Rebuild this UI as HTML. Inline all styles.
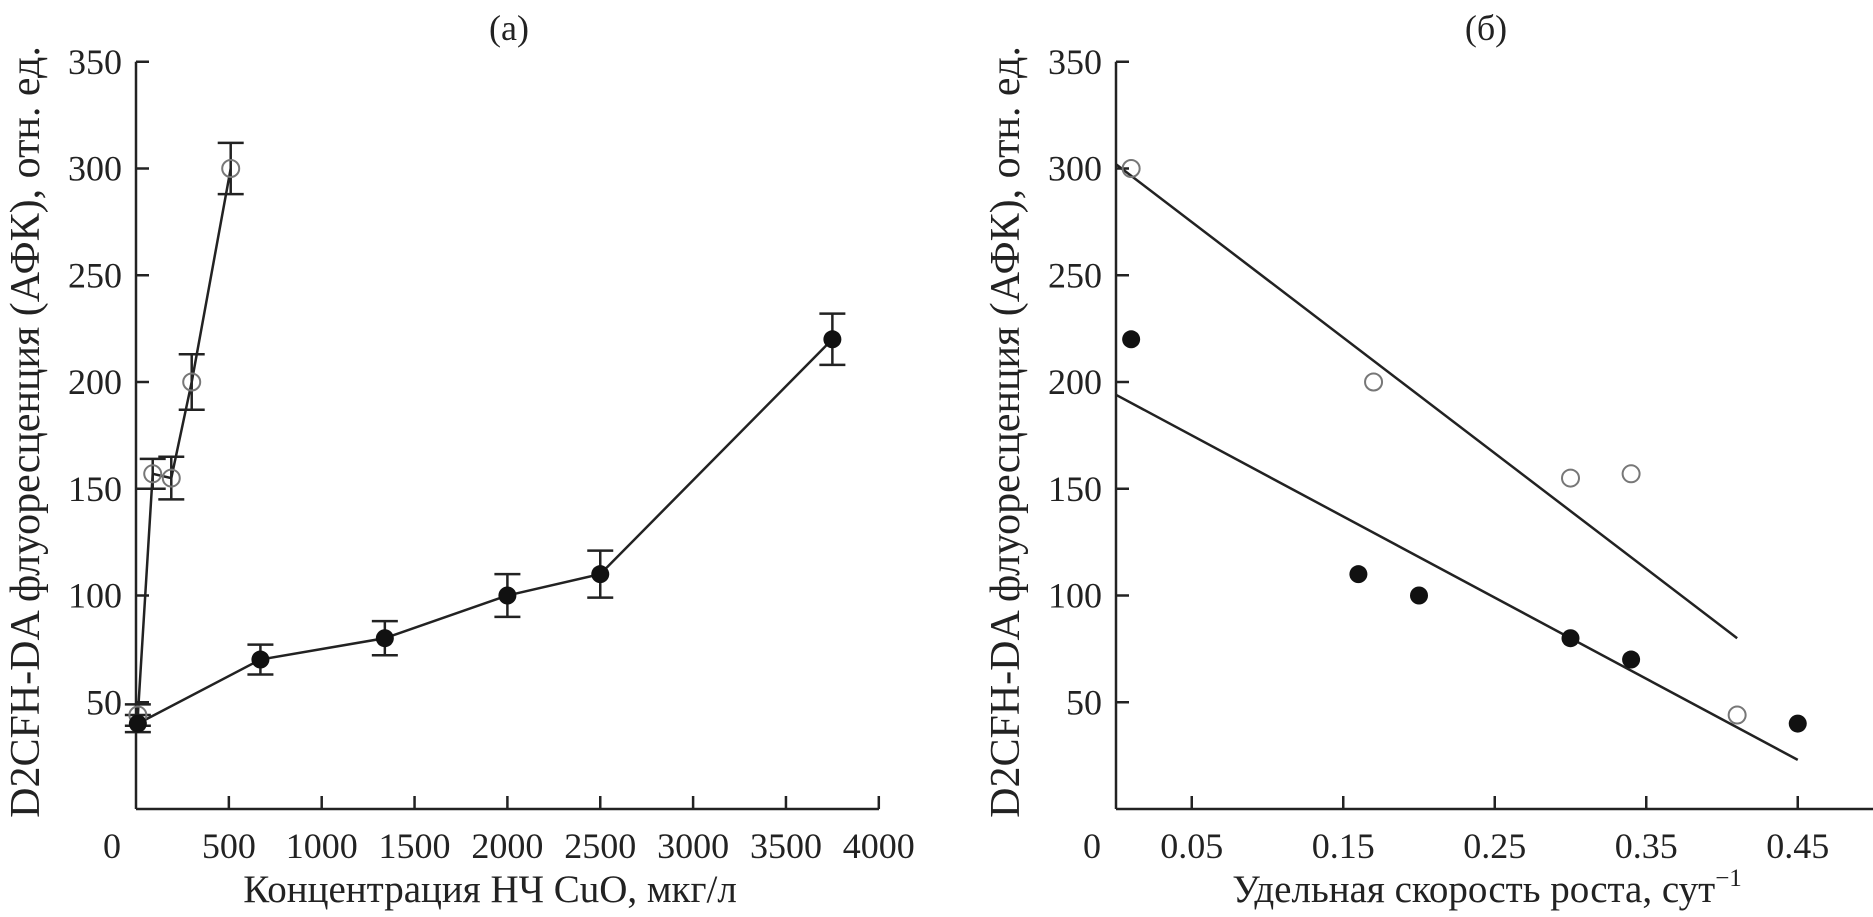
<!DOCTYPE html>
<html><head><meta charset="utf-8">
<style>
html,body{margin:0;padding:0;background:#fff;}
svg{display:block;font-family:"Liberation Serif",serif;}
</style></head>
<body>
<svg id="chart" width="1873" height="917" viewBox="0 0 1873 917">
</svg>
<script>
// Panel (a) data
const aFilledX = [10, 670, 1340, 2000, 2500, 3750];
const aFilledY = [40, 70, 80, 100, 110, 220];
const aFilledErr = [4, 7, 8, 10, 11, 12];
const aOpenX = [10, 90, 190, 300, 510];
const aOpenY = [44, 157, 155, 200, 300];
const aOpenErr = [5, 7, 10, 13, 12];
const aXTicks = [500, 1000, 1500, 2000, 2500, 3000, 3500, 4000];
const yTicks = [50, 100, 150, 200, 250, 300, 350];
// Panel (b) data
const bFilledX = [0.01, 0.16, 0.20, 0.30, 0.34, 0.45];
const bFilledY = [220, 110, 100, 80, 70, 40];
const bOpenX = [0.01, 0.17, 0.30, 0.34, 0.41];
const bOpenY = [300, 200, 155, 157, 44];
const bOpenLineX = [0, 0.41];
const bOpenLineY = [302, 80];
const bFilledLineX = [0, 0.45];
const bFilledLineY = [194, 23];
const bXTicks = [0.05, 0.15, 0.25, 0.35, 0.45];
const bXTickLabels = ["0.05", "0.15", "0.25", "0.35", "0.45"];

const svg = document.getElementById('chart');
const NS = 'http://www.w3.org/2000/svg';
function mk(tag, attrs, parent) {
  const e = document.createElementNS(NS, tag);
  for (const k in attrs) e.setAttribute(k, attrs[k]);
  (parent || svg).appendChild(e);
  return e;
}
const Y0 = 809, YS = 2.135;
const y = v => Y0 - v * YS;
const xa = v => 136 + v * 0.1857;
const xb = v => 1116 + v * 1515;
const TF = 36;

function panel(gname, axisX, xEnd, xFn, ticks, labels, title, xTitle, sup) {
  const g = mk('g', {});
  
  
  const ya = mk('line', {x1: axisX, y1: y(350), x2: axisX, y2: Y0, stroke: '#222', 'stroke-width': 2.5}, g);
  
  
  const xl = mk('line', {x1: axisX, y1: Y0, x2: xEnd, y2: Y0, stroke: '#222', 'stroke-width': 2.5}, g);
  
  
  yTicks.forEach(v => {
    mk('line', {x1: axisX, y1: y(v), x2: axisX + 13, y2: y(v), stroke: '#222', 'stroke-width': 2.5}, g);
    const t = mk('text', {x: axisX - 14, y: y(v) + 12, 'text-anchor': 'end', 'font-size': TF, fill: '#222'}, g);
    t.textContent = v;
    
    
  });
  ticks.forEach((v, i) => {
    mk('line', {x1: xFn(v), y1: Y0, x2: xFn(v), y2: Y0 - 13, stroke: '#222', 'stroke-width': 2.5}, g);
    const t = mk('text', {x: xFn(v), y: 858, 'text-anchor': 'middle', 'font-size': TF, fill: '#222'}, g);
    t.textContent = labels[i];
    
    
  });
  const z = mk('text', {x: axisX - 24, y: 858, 'text-anchor': 'middle', 'font-size': TF, fill: '#222'}, g);
  z.textContent = '0';
  
  
  const tt = mk('text', {x: title[1], y: 40, 'text-anchor': 'middle', 'font-size': TF, fill: '#222'}, g);
  tt.textContent = title[0];
  
  
  const xt = mk('text', {x: xTitle[1], y: 902, 'text-anchor': 'middle', 'font-size': 39, fill: '#222'}, g);
  xt.textContent = xTitle[0];
  if (sup) {
    const s = mk('tspan', {dy: -16, 'font-size': 25}, xt);
    s.textContent = '−1';
  }
  
  
  const yt = mk('text', {x: 0, y: 0, 'text-anchor': 'middle', 'font-size': 42, fill: '#222', transform: `translate(${axisX - 97},432) rotate(-90)`}, g);
  yt.textContent = 'D2CFH-DA флуоресценция (АФК), отн. ед.';
  
  
  return g;
}

const ga = panel('panel-a', 136, 879, xa, aXTicks, aXTicks.map(String), ['(a)', 509], ['Концентрация НЧ CuO, мкг/л', 490], false);
const gb = panel('panel-b', 1116, 1873, xb, bXTicks, bXTickLabels, ['(б)', 1486], ['Удельная скорость роста, сут', 1487], true);

function polyline(xs, ys, xf, g, name) {
  const p = mk('polyline', {points: xs.map((v, i) => xf(v) + ',' + y(ys[i])).join(' '), fill: 'none', stroke: '#222', 'stroke-width': 2.5}, g);
  
  
}
function errs(xs, ys, es, xf, g) {
  xs.forEach((v, i) => {
    const cx = xf(v), t = y(ys[i] + es[i]), b = y(ys[i] - es[i]);
    const e = mk('path', {d: `M${cx},${t}V${b}M${cx - 13},${t}H${cx + 13}M${cx - 13},${b}H${cx + 13}`, stroke: '#222', 'stroke-width': 2.5, fill: 'none'}, g);
    
    
  });
}
function pts(xs, ys, xf, g, filled) {
  xs.forEach((v, i) => {
    const c = mk('circle', filled ? {cx: xf(v), cy: y(ys[i]), r: 9, fill: '#111'} : {cx: xf(v), cy: y(ys[i]), r: 8.5, fill: 'none', stroke: '#777', 'stroke-width': 2}, g);
    
    
  });
}
// panel a
polyline(aOpenX, aOpenY, xa, ga, 'open-series-line');
polyline(aFilledX, aFilledY, xa, ga, 'filled-series-line');
errs(aOpenX, aOpenY, aOpenErr, xa, ga);
errs(aFilledX, aFilledY, aFilledErr, xa, ga);
pts(aOpenX, aOpenY, xa, ga, false);
pts(aFilledX, aFilledY, xa, ga, true);
// panel b
polyline(bOpenLineX, bOpenLineY, xb, gb, 'open-regression-line');
polyline(bFilledLineX, bFilledLineY, xb, gb, 'filled-regression-line');
pts(bOpenX, bOpenY, xb, gb, false);
pts(bFilledX, bFilledY, xb, gb, true);
</script>
</body></html>
